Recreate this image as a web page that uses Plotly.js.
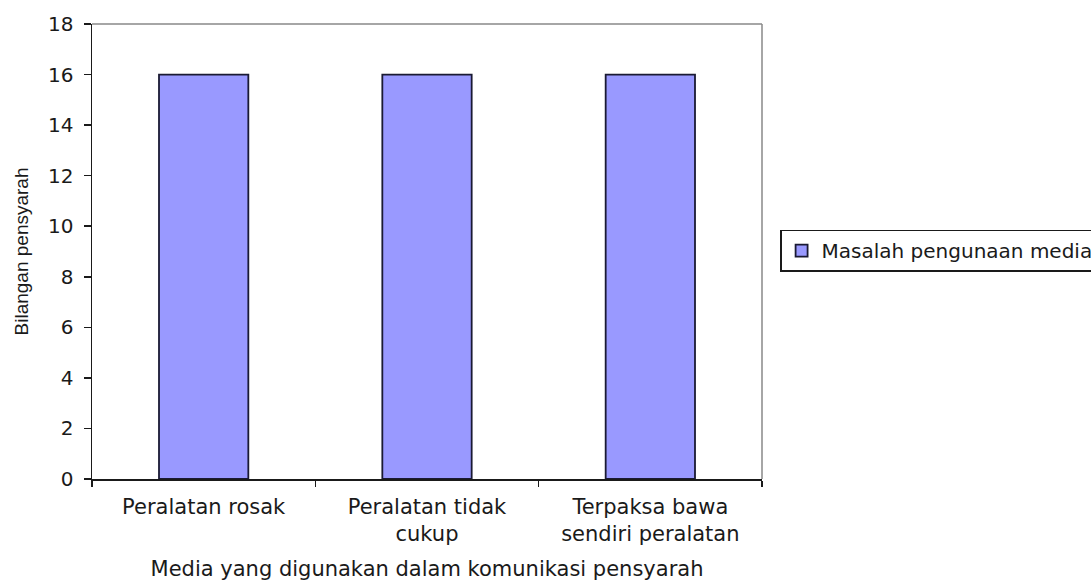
<!DOCTYPE html>
<html>
<head>
<meta charset="utf-8">
<script src="https://cdn.plot.ly/plotly-3.0.1.min.js"></script>
<style>html,body{margin:0;padding:0;background:#fff;}#chart{width:1091px;height:581px;}</style>
</head>
<body>
<div id="chart"></div>
<script>
const categories = ["Peralatan rosak", "Peralatan tidak<br>cukup", "Terpaksa bawa<br>sendiri peralatan"];
const values = [16, 16, 16];
const seriesName = "Masalah pengunaan media";
const yTickVals = [0, 2, 4, 6, 8, 10, 12, 14, 16, 18];
const xTitle = "Media yang digunakan dalam komunikasi pensyarah";
const yTitle = "Bilangan pensyarah";

const font = "DejaVu Sans, Verdana, sans-serif";

const trace = {
  type: "bar",
  x: categories,
  y: values,
  name: seriesName,
  marker: {color: "#9999FF", line: {color: "#1a1a33", width: 1.8}},
  showlegend: true,
  hoverinfo: "x+y"
};

const layout = {
  width: 1091,
  height: 581,
  paper_bgcolor: "#ffffff",
  plot_bgcolor: "#ffffff",
  margin: {l: 92, r: 329, t: 24, b: 102, autoexpand: false},
  bargap: 0.6,
  font: {family: font, size: 21, color: "#1a1a1a"},
  xaxis: {
    type: "category",
    showline: true, linecolor: "#1a1a1a", linewidth: 1.5,
    ticks: "outside", tickson: "boundaries", ticklen: 6, tickcolor: "#1a1a1a", tickwidth: 1.5,
    showgrid: false, zeroline: false,
    ticklabelstandoff: 8,
    tickfont: {family: font, size: 21, color: "#1a1a1a"},
    title: {text: xTitle, font: {family: font, size: 21, color: "#1a1a1a"}, standoff: 16},
    automargin: false
  },
  yaxis: {
    range: [0, 18],
    tickvals: yTickVals,
    showline: true, linecolor: "#1a1a1a", linewidth: 1.5,
    ticks: "outside", ticklen: 7, tickcolor: "#1a1a1a", tickwidth: 1.5,
    showgrid: false, zeroline: false,
    ticklabelstandoff: 6,
    tickfont: {family: font, size: 20, color: "#1a1a1a"},
    title: {text: yTitle, font: {family: "Liberation Sans, Arial, sans-serif", size: 19, color: "#1a1a1a"}, standoff: 14},
    automargin: false
  },
  shapes: [
    {type: "line", xref: "paper", yref: "paper", x0: 0, x1: 1, y0: 1, y1: 1, line: {color: "#888888", width: 1.5}},
    {type: "line", xref: "paper", yref: "paper", x0: 1, x1: 1, y0: 0, y1: 1, line: {color: "#888888", width: 1.5}}
  ],
  showlegend: true,
  legend: {
    x: 1.027, xanchor: "left", y: 0.502, yanchor: "middle",
    bordercolor: "#1a1a1a", borderwidth: 1.5, bgcolor: "#ffffff",
    font: {family: font, size: 20, color: "#1a1a1a"},
    itemwidth: 30
  }
};

Plotly.newPlot("chart", [trace], layout, {displayModeBar: false, staticPlot: true});
</script>
</body>
</html>
